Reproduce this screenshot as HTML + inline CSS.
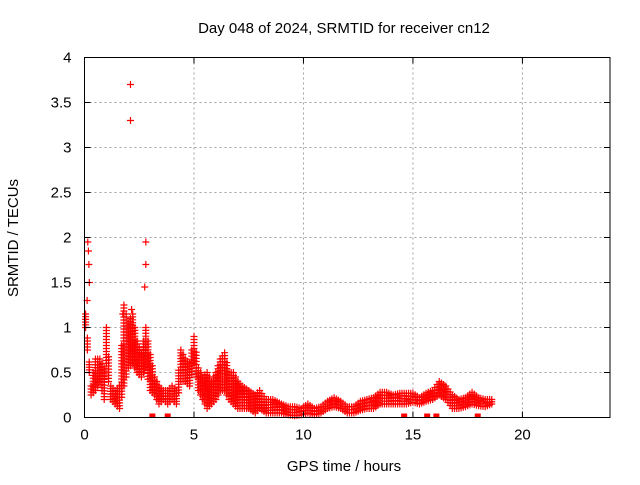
<!DOCTYPE html>
<html><head><meta charset="utf-8"><style>
body{margin:0;background:#fff}
svg text{font-family:"Liberation Sans",sans-serif;font-size:15px;fill:#000}
</style></head><body>
<svg id="chart" width="640" height="480" xmlns="http://www.w3.org/2000/svg">
<rect width="640" height="480" fill="#fff"/>
<text x="344" y="33" text-anchor="middle">Day 048 of 2024, SRMTID for receiver cn12</text>
<text x="344" y="471" text-anchor="middle">GPS time / hours</text>
<text x="18" y="238" text-anchor="middle" transform="rotate(-90 18 238)">SRMTID / TECUs</text>
<g id="grid"></g>
<g id="marks"></g>
<g id="axes"></g>
</svg>
<script>
const xTicks=[0,5,10,15,20];
const yTicks=[0,0.5,1,1.5,2,2.5,3,3.5,4];
const yTickLabels=["0","0.5","1","1.5","2","2.5","3","3.5","4"];
const times=[0.05,0.3,0.5,0.7,0.9,1.0,1.2,1.4,1.6,1.8,2.0,2.2,2.4,2.6,2.8,3.0,3.2,3.4,3.6,3.8,4.0,4.2,4.4,4.6,4.8,5.0,5.2,5.4,5.6,5.8,6.0,6.2,6.4,6.6,6.8,7.0,7.2,7.5,7.8,8.0,8.3,8.6,9.0,9.3,9.6,9.9,10.2,10.5,10.8,11.1,11.4,11.7,12.0,12.3,12.6,12.9,13.2,13.5,13.8,14.1,14.4,14.7,15.0,15.3,15.6,15.9,16.2,16.5,16.8,17.1,17.4,17.7,18.0,18.3,18.6];
const lowVals=[1.0,0.25,0.3,0.4,0.2,0.6,0.2,0.15,0.1,0.35,0.55,0.6,0.5,0.45,0.55,0.3,0.25,0.15,0.2,0.15,0.2,0.15,0.4,0.4,0.35,0.6,0.3,0.2,0.1,0.15,0.2,0.3,0.3,0.2,0.15,0.1,0.1,0.1,0.05,0.1,0.05,0.05,0.05,0.03,0.02,0.03,0.05,0.03,0.05,0.1,0.12,0.1,0.05,0.05,0.08,0.1,0.1,0.15,0.15,0.15,0.15,0.15,0.17,0.15,0.18,0.2,0.25,0.2,0.1,0.1,0.12,0.15,0.13,0.12,0.15];
const highVals=[1.15,0.35,0.65,0.65,0.55,1.0,0.35,0.3,0.35,1.25,1.05,1.15,0.85,0.7,1.0,0.7,0.45,0.35,0.3,0.3,0.35,0.3,0.75,0.65,0.6,0.9,0.55,0.45,0.5,0.4,0.5,0.65,0.72,0.5,0.5,0.4,0.35,0.3,0.25,0.3,0.2,0.2,0.15,0.12,0.12,0.1,0.15,0.1,0.12,0.18,0.22,0.18,0.12,0.12,0.18,0.2,0.22,0.28,0.28,0.25,0.27,0.27,0.27,0.22,0.27,0.3,0.4,0.35,0.25,0.2,0.22,0.28,0.22,0.2,0.2];
const outT=[0.15,0.18,0.2,0.22,0.12,2.1,2.1,2.8,2.8,2.75,1.75,2.15];
const outV=[1.95,1.85,1.7,1.5,1.3,3.7,3.3,1.95,1.7,1.45,1.15,1.2];
const zeroT=[3.1,3.8,14.6,15.65,16.07,17.96];

const X0=84.5,X1=610,Y0=417.5,Y1=57.5;
const xs=v=>X0+(v/24)*(X1-X0);
const ys=v=>Y0-(v/4)*(Y0-Y1);
const NS="http://www.w3.org/2000/svg";
function mk(tag,attrs,parent){const e=document.createElementNS(NS,tag);for(const k in attrs)e.setAttribute(k,attrs[k]);parent.appendChild(e);return e;}
const grid=document.getElementById('grid'),marks=document.getElementById('marks'),axes=document.getElementById('axes');
xTicks.forEach(t=>{
  if(t>0){const l=mk('line',{x1:xs(t),x2:xs(t),y1:Y1,y2:Y0,stroke:'#a0a0a0','stroke-dasharray':'2,3'},grid);
  
  }
  const tk=mk('path',{d:`M${xs(t)},${Y0}v-6M${xs(t)},${Y1}v6`,stroke:'#000'},axes);
  
  
  const tx=mk('text',{x:xs(t),y:Y0+22,'text-anchor':'middle'},axes);tx.textContent=t;
  
  
});
yTicks.forEach((t,i)=>{
  if(t>0&&t<4){const l=mk('line',{x1:X0,x2:X1,y1:ys(t),y2:ys(t),stroke:'#a0a0a0','stroke-dasharray':'2,3'},grid);
  
  }
  const tk=mk('path',{d:`M${X0},${ys(t)}h6M${X1},${ys(t)}h-6`,stroke:'#000'},axes);
  
  
  const tx=mk('text',{x:X0-13,y:ys(t)+5,'text-anchor':'end'},axes);tx.textContent=yTickLabels[i];
  
  
});
const b=mk('rect',{x:X0,y:Y1,width:X1-X0,height:Y0-Y1,fill:'none',stroke:'#000'},axes);


function plus(t,v){
  const x=xs(t),y=ys(v);
  const p=mk('path',{d:`M${x-3.5},${y}h7M${x},${y-3.5}v7`,stroke:'#f00','stroke-width':1.2},marks);
  
  
}
for(let i=0;i<times.length;i++){
  const t0=times[i],t1=i+1<times.length?times[i+1]:times[i]+0.1;
  const lo0=lowVals[i],hi0=highVals[i];
  const lo1=i+1<times.length?lowVals[i+1]:lo0,hi1=i+1<times.length?highVals[i+1]:hi0;
  const nx=Math.max(1,Math.round((xs(t1)-xs(t0))/2));
  for(let k=0;k<nx;k++){
    const f=k/nx,t=t0+(t1-t0)*f;
    const lo=lo0+(lo1-lo0)*f,hi=hi0+(hi1-hi0)*f;
    const n=Math.max(1,Math.round((ys(lo)-ys(hi))/3));
    for(let j=0;j<=n;j++)plus(t,lo+(hi-lo)*j/n);
  }
}
outT.forEach((t,i)=>plus(t,outV[i]));
zeroT.forEach(t=>{
  const r=mk('rect',{x:xs(t)-3,y:Y0-4,width:6,height:4,fill:'#f00'},marks);
  
  
});
</script>
</body></html>
